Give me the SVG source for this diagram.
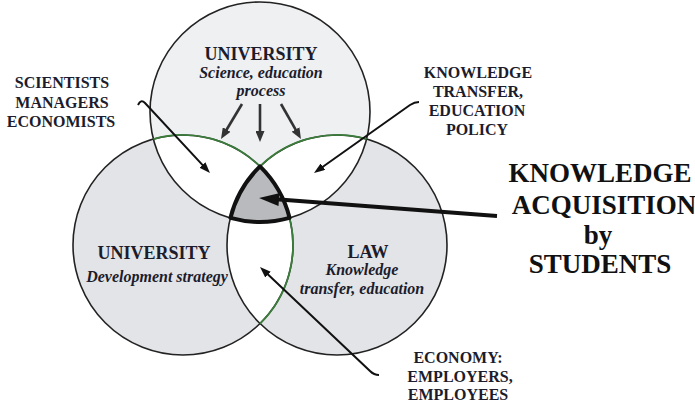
<svg xmlns="http://www.w3.org/2000/svg" width="695" height="405" viewBox="0 0 695 405">
<style>
.t{font-family:"Liberation Serif","Times New Roman",serif;font-weight:bold;fill:#1c1c2c;text-anchor:middle}
.h{font-size:18px}
.s{font-size:16px;font-style:italic}
.l{font-size:16px}
.b{font-size:27px;fill:#111}
.ring{fill:none;stroke:#222;stroke-width:1.6}
.green{fill:none;stroke:#3b7d3b;stroke-width:1.8}
.arrow{fill:none;stroke:#111;stroke-width:2}
.parrow{fill:none;stroke:#333;stroke-width:2.6}
</style>
<defs>
<marker id="ah" viewBox="0 0 11 8" refX="4" refY="4" markerWidth="11" markerHeight="8" markerUnits="userSpaceOnUse" orient="auto"><path d="M0,0 L11,4 L0,8 z" fill="#111"/></marker>
<marker id="ahp" viewBox="0 0 11 9" refX="4" refY="4.5" markerWidth="11" markerHeight="9" markerUnits="userSpaceOnUse" orient="auto"><path d="M0,0 L11,4.5 L0,9 z" fill="#333"/></marker>
<marker id="ahb" viewBox="0 0 20 13" refX="6" refY="6.5" markerWidth="20" markerHeight="13" markerUnits="userSpaceOnUse" orient="auto"><path d="M0,0 L20,6.5 L0,13 z" fill="#111"/></marker>
</defs>
<rect width="695" height="405" fill="#fff"/>
<g id="fills">
<circle cx="260" cy="112" r="110" fill="#eef0f2"/>
<circle cx="183" cy="245" r="110" fill="#e3e4e7"/>
<circle cx="337" cy="245" r="110" fill="#e3e4e7"/>
<path d="M153.4,139.1 A110,110 0 0 1 289.6,217.9 A110,110 0 0 1 153.4,139.1 Z" fill="#fff"/>
<path d="M230.4,217.9 A110,110 0 0 1 366.6,139.1 A110,110 0 0 1 230.4,217.9 Z" fill="#fff"/>
<path d="M260,166.4 A110,110 0 0 1 260,323.6 A110,110 0 0 1 260,166.4 Z" fill="#fff"/>
<path d="M260,166.4 A110,110 0 0 1 289.6,217.9 A110,110 0 0 1 230.4,217.9 A110,110 0 0 1 260,166.4 Z" fill="#b9babd"/>
</g>
<g id="node-university-top">
<circle class="ring" cx="260" cy="112" r="110"/>
<text class="t h" x="261" y="60">UNIVERSITY</text>
<text class="t s" x="261" y="78">Science, education</text>
<text class="t s" x="261" y="96">process</text>
</g>
<g id="node-university-left">
<circle class="ring" cx="183" cy="245" r="110"/>
<text class="t h" x="154" y="259">UNIVERSITY</text>
<text class="t s" x="157" y="282">Development strategy</text>
</g>
<g id="node-law">
<circle class="ring" cx="337" cy="245" r="110"/>
<text class="t h" x="368" y="258">LAW</text>
<text class="t s" x="362" y="275">Knowledge</text>
<text class="t s" x="362" y="294">transfer, education</text>
</g>
<g id="green-arcs">
<path class="green" d="M153.4,139.1 A110,110 0 0 1 260,166.4"/>
<path class="green" d="M289.6,217.9 A110,110 0 0 1 260,323.6"/>
<path class="green" d="M260,166.4 A110,110 0 0 1 366.6,139.1"/>
</g>
<g id="node-center">
<path d="M260,166.4 A110,110 0 0 1 289.6,217.9 A110,110 0 0 1 230.4,217.9 A110,110 0 0 1 260,166.4 Z" fill="none" stroke="#111" stroke-width="4" stroke-linejoin="round"/>
</g>
<g id="label-scientists">
<text class="t l" x="62" y="88">SCIENTISTS</text>
<text class="t l" x="62" y="108">MANAGERS</text>
<text class="t l" x="61" y="127">ECONOMISTS</text>
</g>
<g id="label-knowledge-transfer">
<text class="t l" x="478" y="78">KNOWLEDGE</text>
<text class="t l" x="478" y="97">TRANSFER,</text>
<text class="t l" x="477" y="116">EDUCATION</text>
<text class="t l" x="477" y="135">POLICY</text>
</g>
<g id="label-acquisition">
<text class="t b" x="600" y="182">KNOWLEDGE</text>
<text class="t b" x="604" y="214">ACQUISITION</text>
<text class="t b" x="598" y="244">by</text>
<text class="t b" x="600" y="273">STUDENTS</text>
</g>
<g id="label-economy">
<text class="t l" x="458" y="363">ECONOMY:</text>
<text class="t l" x="460" y="382">EMPLOYERS,</text>
<text class="t l" x="458" y="400">EMPLOYEES</text>
</g>
<g id="connectors">
<path class="arrow" d="M138,105 C140,101 142,100 145,103 L205.2,167.9" marker-end="url(#ah)"/>
<path class="arrow" d="M419,102 C415,102 413,103 410,105 L319.7,169" marker-end="url(#ah)"/>
<path class="parrow" d="M242,104 L224.6,133" marker-end="url(#ahp)"/>
<path class="parrow" d="M260,104 L260,135" marker-end="url(#ahp)"/>
<path class="parrow" d="M281,104 L297.5,132.9" marker-end="url(#ahp)"/>
<path fill="none" stroke="#111" stroke-width="4" d="M497,216 L273,199.1" marker-end="url(#ahb)"/>
<path class="arrow" d="M379,375 C374,375 372,373 370,371 L265.1,271.8" marker-end="url(#ah)"/>
</g>
</svg>
